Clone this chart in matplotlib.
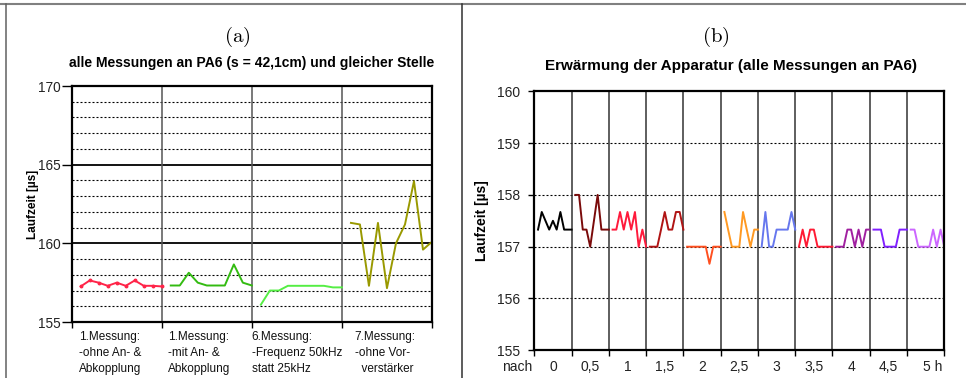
import matplotlib
matplotlib.use("Agg")
import matplotlib.pyplot as plt
from matplotlib.lines import Line2D

plt.rcParams['font.family'] = ['Liberation Sans', 'DejaVu Sans']
plt.rcParams['mathtext.fontset'] = 'cm'

# (a) transit times at the same spot, 10 readings per measurement
groups_a = ["1.Messung:\n-ohne An- &\nAbkopplung",
            "1.Messung:\n-mit An- &\nAbkopplung",
            "6.Messung:\n-Frequenz 50kHz\nstatt 25kHz",
            "7.Messung:\n-ohne Vor-\n  verstärker"]
ohne_kopplung = [157.26, 157.64, 157.5, 157.3, 157.5, 157.3, 157.64, 157.3, 157.3, 157.26]
mit_kopplung = [157.32, 157.32, 158.13, 157.5, 157.32, 157.32, 157.32, 158.66, 157.5, 157.32]
freq_50khz = [156.1, 157.0, 157.0, 157.3, 157.3, 157.3, 157.3, 157.3, 157.2, 157.2]
ohne_verstaerker = [161.3, 161.2, 157.3, 161.3, 157.15, 160.0, 161.2, 163.95, 159.6, 160.1]

# (b) warm-up of the apparatus, 10 readings every half hour
hours = ["0", "0,5", "1", "1,5", "2", "2,5", "3", "3,5", "4", "4,5", "5 h"]
t00 = [157.33, 157.67, 157.5, 157.33, 157.5, 157.33, 157.67, 157.33, 157.33, 157.33]
t05 = [158.0, 158.0, 157.33, 157.33, 157.0, 157.5, 158.0, 157.33, 157.33, 157.33]
t10 = [157.33, 157.33, 157.67, 157.33, 157.67, 157.33, 157.67, 157.0, 157.33, 157.0]
t15 = [157.0, 157.0, 157.0, 157.33, 157.67, 157.33, 157.33, 157.67, 157.67, 157.33]
t20 = [157.0, 157.0, 157.0, 157.0, 157.0, 157.0, 156.67, 157.0, 157.0, 157.0]
t25 = [157.67, 157.33, 157.0, 157.0, 157.0, 157.67, 157.33, 157.0, 157.33, 157.33]
t30 = [157.0, 157.67, 157.0, 157.0, 157.33, 157.33, 157.33, 157.33, 157.67, 157.33]
t35 = [157.0, 157.33, 157.0, 157.33, 157.33, 157.0, 157.0, 157.0, 157.0, 157.0]
t40 = [157.0, 157.0, 157.0, 157.33, 157.33, 157.0, 157.33, 157.0, 157.33, 157.33]
t45 = [157.33, 157.33, 157.33, 157.0, 157.0, 157.0, 157.0, 157.33, 157.33, 157.33]
t50 = [157.33, 157.33, 157.0, 157.0, 157.0, 157.0, 157.33, 157.0, 157.33, 157.0]

series_a = [ohne_kopplung, mit_kopplung, freq_50khz, ohne_verstaerker]
colors_a = ['#FF2448', '#33BB11', '#55EE44', '#999900']
label_x_a = [0.8, 10.7, 20.0, 31.4]   # left edge of each group caption

series_b = [t00, t05, t10, t15, t20, t25, t30, t35, t40, t45, t50]
colors_b = ['#000000', '#7A0A0A', '#FF1A3C', '#B01414', '#FF5020', '#FF9922',
            '#6677EE', '#FF1A33', '#A020A0', '#8020FF', '#CC66FF']

W, H = 966, 378
fig = plt.figure(figsize=(W / 100, H / 100), dpi=100)

# table frame around the two panels
fig.add_artist(Line2D([0, 1], [1 - 4 / H, 1 - 4 / H], color='#808080', lw=1.5))
fig.add_artist(Line2D([6 / W, 6 / W], [0, 1 - 4 / H], color='#606060', lw=1.1))
fig.add_artist(Line2D([462 / W, 462 / W], [0, 1 - 4 / H], color='#303030', lw=1.1))

fig.text(237 / W, 1 - 37 / H, r'$\mathrm{(a)}$', ha='center', va='center', fontsize=15)
fig.text(716 / W, 1 - 37 / H, r'$\mathrm{(b)}$', ha='center', va='center', fontsize=15)

dotted = (0, (1.8, 1.8))

# ---- panel (a)
ax1 = fig.add_axes([71.7 / W, 56 / H, 360.3 / W, 236 / H])
ax1.set_xlim(0, 40)
ax1.set_ylim(155, 170)
for y in range(156, 170):
    if y % 5:
        ax1.axhline(y, color='black', lw=0.8, ls=dotted)
    else:
        ax1.axhline(y, color='black', lw=1.3)
for x in (10, 20, 30):
    ax1.axvline(x, color='#555555', lw=1.1)

for i, (vals, col) in enumerate(zip(series_a, colors_a)):
    xs = [10 * i + j + 1 for j in range(len(vals))]
    if i == 0:
        ax1.plot(xs, vals, color=col, lw=1.4, marker='o', ms=1.8)
    else:
        ax1.plot(xs, vals, color=col, lw=1.4)

for lx, txt in zip(label_x_a, groups_a):
    ax1.text(lx, -0.038, txt, transform=ax1.get_xaxis_transform(), ha='left', va='top',
             fontsize=8.5, linespacing=1.45, color='#111111')

ax1.set_yticks([155, 160, 165, 170])
ax1.set_xticks([0, 10, 20, 30, 40])
ax1.set_xticklabels([])
ax1.tick_params(axis='y', direction='out', length=7, width=1, pad=1, labelsize=9.8,
                labelcolor='#222222')
ax1.tick_params(axis='x', direction='out', length=4, width=1)
for sp in ax1.spines.values():
    sp.set_linewidth(1.6)
ax1.set_ylabel('Laufzeit [µs]', fontsize=8.5, fontweight='bold')
ax1.yaxis.set_label_coords(-0.092, 0.5)
ax1.set_title('alle Messungen an PA6 (s = 42,1cm) und gleicher Stelle',
              fontsize=10, fontweight='bold', pad=14)

# ---- panel (b)
ax2 = fig.add_axes([534.3 / W, 27.7 / H, 410 / W, 259 / H])
ax2.set_xlim(0, 110)
ax2.set_ylim(155, 160)
for y in range(156, 160):
    ax2.axhline(y, color='black', lw=0.8, ls=dotted)
for x in range(10, 110, 10):
    ax2.axvline(x, color='#333333', lw=1.1)

for i, (vals, col) in enumerate(zip(series_b, colors_b)):
    xs = [10 * i + j + 1 for j in range(len(vals))]
    ax2.plot(xs, vals, color=col, lw=1.4)

ax2.set_yticks(range(155, 161))
ax2.set_xticks(range(0, 111, 10))
ax2.set_xticklabels([])
ax2.tick_params(axis='y', direction='out', length=4, width=1, pad=6, labelsize=10,
                labelcolor='#222222')
ax2.tick_params(axis='x', direction='out', length=4, width=1)
for sp in ax2.spines.values():
    sp.set_linewidth(1.6)

xt = ax2.get_xaxis_transform()
ax2.text(-0.042, -0.065, 'nach', transform=ax2.transAxes, ha='center', va='center',
         fontsize=10, color='#222222')
for i, lab in enumerate(hours):
    x = 10 * i + 5 + (2 if lab.endswith('h') else 0)
    ax2.text(x, -0.065, lab, transform=xt, ha='center', va='center',
             fontsize=10, color='#222222')

ax2.set_ylabel('Laufzeit [µs]', fontsize=10, fontweight='bold')
ax2.yaxis.set_label_coords(-0.110, 0.5)
fig.text(731 / W, 1 - 66 / H, 'Erwärmung der Apparatur (alle Messungen an PA6)',
         ha='center', va='center', fontsize=11, fontweight='bold')

fig.savefig('out.png', dpi=100)
